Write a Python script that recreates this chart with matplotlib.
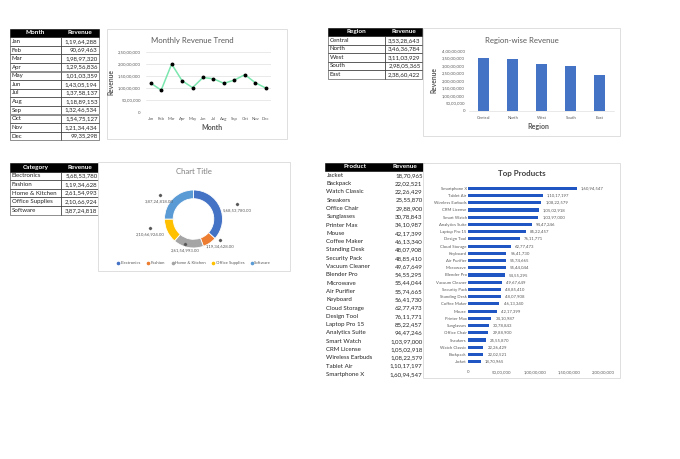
import matplotlib
matplotlib.use('Agg')
import matplotlib.pyplot as plt
from matplotlib.patches import Rectangle
from matplotlib.lines import Line2D
import numpy as np

plt.rcParams['font.family'] = ['Lato', 'DejaVu Sans']

# data
months = ['Jan', 'Feb', 'Mar', 'Apr', 'May', 'Jun', 'Jul', 'Aug', 'Sep', 'Oct', 'Nov', 'Dec']
month_rev = [11964288, 9069463, 19897320, 12956836, 10103359, 14305194,
             13758137, 11889153, 13246534, 15475127, 12134434, 9935298]

regions = ['Central', 'North', 'West', 'South', 'East']
region_rev = [35328643, 34636784, 31103929, 29805365, 23860422]

categories = ['Electronics', 'Fashion', 'Home & Kitchen', 'Office Supplies', 'Software']
category_rev = [56853780, 11934628, 26154993, 21066924, 38724818]

products = ['Jacket', 'Backpack', 'Watch Classic', 'Sneakers', 'Office Chair', 'Sunglasses',
            'Printer Max', 'Mouse', 'Coffee Maker', 'Standing Desk', 'Security Pack',
            'Vacuum Cleaner', 'Blender Pro', 'Microwave', 'Air Purifier', 'Keyboard',
            'Cloud Storage', 'Design Tool', 'Laptop Pro 15', 'Analytics Suite', 'Smart Watch',
            'CRM License', 'Wireless Earbuds', 'Tablet Air', 'Smartphone X']
product_rev = [1870965, 2202521, 2226429, 2555870, 2988900, 3078843, 3410987, 4217399,
               4613340, 4807908, 4885410, 4967649, 5455295, 5544044, 5574665, 5641730,
               6277473, 7611771, 8522457, 9447246, 10397000, 10502918, 10822579,
               11017197, 16094547]

cat_colors = ['#4472C4', '#ED7D31', '#A5A5A5', '#FFC000', '#5B9BD5']
GREY = '#595959'

W, H = 680, 459
fig = plt.figure(figsize=(W / 100, H / 100), dpi=100)
bg = fig.add_axes([0, 0, 1, 1])
bg.set_xlim(0, W)
bg.set_ylim(H, 0)
bg.axis('off')


def px_axes(x0, y0, x1, y1):
    ax = fig.add_axes([x0 / W, 1 - y1 / H, (x1 - x0) / W, (y1 - y0) / H])
    ax.patch.set_alpha(0)
    return ax


# indian number format 1,19,64,288
def inr(v, dec=False):
    s = str(int(round(v)))
    if len(s) > 3:
        head, tail = s[:-3], s[-3:]
        parts = []
        while len(head) > 2:
            parts.insert(0, head[-2:])
            head = head[:-2]
        if head:
            parts.insert(0, head)
        s = ','.join(parts + [tail])
    return s + ('.00' if dec else '')


def table(x0, xm, x1, top, rowh, head, names, vals, grid=True):
    bg.add_patch(Rectangle((x0, top), x1 - x0, rowh, fc='black', ec='black', lw=0.4))
    bg.text((x0 + xm) / 2, top + rowh / 2, head[0], color='white', weight='bold',
            ha='center', va='center', fontsize=4.6)
    bg.text((xm + x1) / 2, top + rowh / 2, head[1], color='white', weight='bold',
            ha='center', va='center', fontsize=4.6)
    for i, (nm, v) in enumerate(zip(names, vals)):
        y = top + rowh * (i + 1)
        if grid:
            bg.add_patch(Rectangle((x0, y), xm - x0, rowh, fc='none', ec='#3a3a3a', lw=0.4))
            bg.add_patch(Rectangle((xm, y), x1 - xm, rowh, fc='none', ec='#3a3a3a', lw=0.4))
        bg.text(x0 + 1.5, y + rowh / 2, nm, ha='left', va='center', fontsize=4.4, color='#262626')
        bg.text(x1 - 1.5, y + rowh / 2, inr(v), ha='right', va='center', fontsize=4.4, color='#262626')


def panel(x0, y0, x1, y1):
    bg.add_patch(Rectangle((x0, y0), x1 - x0, y1 - y0, fc='white', ec='#D9D9D9', lw=0.6))


def clean(ax):
    for s in ax.spines.values():
        s.set_visible(False)


# tables
table(10, 61, 99, 28.5, 8.6, ('Month', 'Revenue'), months, month_rev)
table(328, 385, 422, 27.5, 8.5, ('Region', 'Revenue'), regions, region_rev)
table(10, 61, 99, 163, 8.6, ('Category', 'Revenue'), categories, category_rev)
table(325, 385, 424, 162.8, 8.3, ('Product', 'Revenue'), products, product_rev, grid=False)

# monthly trend
panel(107, 29, 287, 139)
bg.text(192, 40, 'Monthly Revenue Trend', ha='center', va='center', fontsize=5.6, color=GREY)
bg.text(212, 127.7, 'Month', ha='center', va='center', fontsize=5, color=GREY, weight='bold')
bg.text(110.5, 82, 'Revenue', ha='center', va='center', fontsize=4.8, color=GREY,
        weight='bold', rotation=90)
ax1 = px_axes(145.5, 51.7, 271, 112)
xm = np.arange(len(months))
ax1.plot(xm, month_rev, color='#7BE6AE', lw=1.1, marker='o', ms=1.8,
         mfc='black', mec='black', zorder=3)
ax1.set_xlim(-0.5, len(months) - 0.5)
ax1.set_ylim(0, 2.5e7)
yt = np.arange(0, 2.5e7 + 1, 5e6)
ax1.set_yticks(yt)
ax1.set_yticklabels([inr(v) for v in yt])
ax1.set_xticks(xm)
ax1.set_xticklabels(months)
ax1.grid(axis='y', color='#D9D9D9', lw=0.4)
ax1.tick_params(length=0, labelsize=3.1, labelcolor=GREY)
ax1.tick_params(axis='y', pad=3.4)
ax1.tick_params(axis='x', pad=3.6)
clean(ax1)

# region-wise
panel(423, 28, 620, 136)
bg.text(521.7, 40, 'Region-wise Revenue', ha='center', va='center', fontsize=5.6, color=GREY)
bg.text(538, 126.7, 'Region', ha='center', va='center', fontsize=5, color=GREY, weight='bold')
bg.text(434, 80, 'Revenue', ha='center', va='center', fontsize=4.8, color=GREY,
        weight='bold', rotation=90)
ax2 = px_axes(469, 50.7, 614.4, 111)
ax2.bar(np.arange(len(regions)), region_rev, width=0.38, color='#4472C4')
ax2.set_xlim(-0.5, len(regions) - 0.5)
ax2.set_ylim(0, 4e7)
yt = np.arange(0, 4e7 + 1, 5e6)
ax2.set_yticks(yt)
ax2.set_yticklabels([inr(v) for v in yt])
ax2.set_xticks(np.arange(len(regions)))
ax2.set_xticklabels(regions)
ax2.tick_params(length=0, labelsize=3.1, labelcolor=GREY)
ax2.tick_params(axis='y', pad=2.9)
ax2.tick_params(axis='x', pad=3.4)
clean(ax2)
ax2.spines['bottom'].set_visible(True)
ax2.spines['bottom'].set_color('#D9D9D9')
ax2.spines['bottom'].set_linewidth(0.4)

# donut
panel(98, 162, 290, 271)
bg.text(194, 172, 'Chart Title', ha='center', va='center', fontsize=5.6, color='#7F7F7F')
ax4 = px_axes(164.5, 190, 222.5, 248)
ax4.pie(category_rev, colors=cat_colors, startangle=90, counterclock=False, radius=1,
        wedgeprops=dict(width=0.3, edgecolor='white', linewidth=0.6))
ax4.set_xlim(-1, 1)
ax4.set_ylim(-1, 1)
total = float(sum(category_rev))
start = 0.0
for v in category_rev:
    frac = v / total
    mid = np.deg2rad((start + frac / 2) * 360)
    start += frac
    mx, my = 1.65 * np.sin(mid), 1.0 * np.cos(mid) + 0.12
    ax4.plot(mx, my, marker='D', ms=1.2, color=GREY, clip_on=False)
    ax4.text(mx, my - 0.23, inr(v, dec=True), ha='center', va='center', fontsize=3.1,
             color=GREY, clip_on=False)
handles = [Line2D([], [], marker='o', ls='', color=c, ms=1.6) for c in cat_colors]
bg.legend(handles, categories, loc='center', bbox_to_anchor=(194, 263.3),
          bbox_transform=bg.transData, ncol=5, fontsize=3.1, frameon=False,
          handlelength=0.6, handletextpad=0.3, columnspacing=1.4, labelcolor=GREY)

# top products
panel(423, 163, 620, 378)
bg.text(522, 173.3, 'Top Products', ha='center', va='center', fontsize=5.8,
        color='#404040', weight='bold')
ax3 = px_axes(468.3, 184.7, 603, 365.3)
yp = np.arange(len(products))
ax3.barh(yp, product_rev, height=0.42, color='#1F56C3')
for i, v in enumerate(product_rev):
    ax3.annotate(inr(v), (v, i), xytext=(3, 0), textcoords='offset points',
                 ha='left', va='center', fontsize=3.1, color=GREY)
ax3.set_xlim(0, 2e7)
ax3.set_ylim(-0.5, len(products) - 0.5)
xt = np.arange(0, 2e7 + 1, 5e6)
ax3.set_xticks(xt)
ax3.set_xticklabels([inr(v) for v in xt])
ax3.set_yticks(yp)
ax3.set_yticklabels(products)
ax3.tick_params(length=0, labelsize=3.1, labelcolor=GREY)
ax3.tick_params(axis='y', pad=1.2)
ax3.tick_params(axis='x', pad=3.4)
clean(ax3)

fig.savefig('out.png', dpi=100)
